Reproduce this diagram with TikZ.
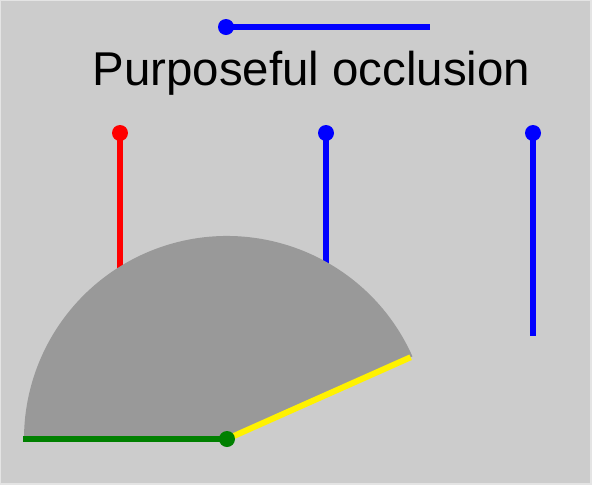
\documentclass[tikz,border=0pt]{standalone}
\usepackage{fontspec}
\setmainfont{Liberation Sans}
\usetikzlibrary{calc}
\definecolor{bggrey}{HTML}{CCCCCC}
\definecolor{edgegrey}{HTML}{E4E4E4}
\definecolor{shadegrey}{HTML}{999999}
\definecolor{dkgreen}{HTML}{008000}
\begin{document}
\begin{tikzpicture}[
  x=0.02cm, y=-0.02cm,
  seg/.style={line width=0.12cm},
  knob/.style={circle, inner sep=0pt, minimum size=0.32cm}
]

%% -- Canvas -------------------------------------------------
\fill[edgegrey] (0,0) rectangle (592,485);
\fill[bggrey] (1,1) rectangle (590,483);

%% -- Title and top bar --------------------------------------
\node[knob, fill=blue] (topk) at (226,27) {};
\coordinate (tope) at (430,27);
\draw[seg, blue] (topk.center) -- (tope);
\node[anchor=base, font=\fontsize{27}{32}\selectfont] (title) at (311.5,85)
  {Purposeful occlusion};

%% -- Vertical probes ----------------------------------------
\node[knob, fill=red]  (redk)  at (120,133) {};
\node[knob, fill=blue] (midk)  at (326,133) {};
\node[knob, fill=blue] (rgtk)  at (533,133) {};
\coordinate (redb) at (120,300);
\coordinate (midb) at (326,300);
\coordinate (rgtb) at (533,336);
\draw[seg, red]  (redk.center) -- (redb);
\draw[seg, blue] (midk.center) -- (midb);
\draw[seg, blue] (rgtk.center) -- (rgtb);

%% -- Occluding sector ---------------------------------------
\coordinate (ctr) at (227,439);
\fill[shadegrey] (ctr) -- ++(-24:203)
  arc[start angle=-24, end angle=-180, radius=203] -- cycle;

\coordinate (lft) at (23,439);
\coordinate (rim) at ($(ctr)+(-24:201)$);
\draw[seg, dkgreen] (lft) -- (ctr);
\draw[seg, yellow] (ctr) -- (rim);
\node[knob, fill=dkgreen] (hub) at (ctr) {};

\end{tikzpicture}
\end{document}
